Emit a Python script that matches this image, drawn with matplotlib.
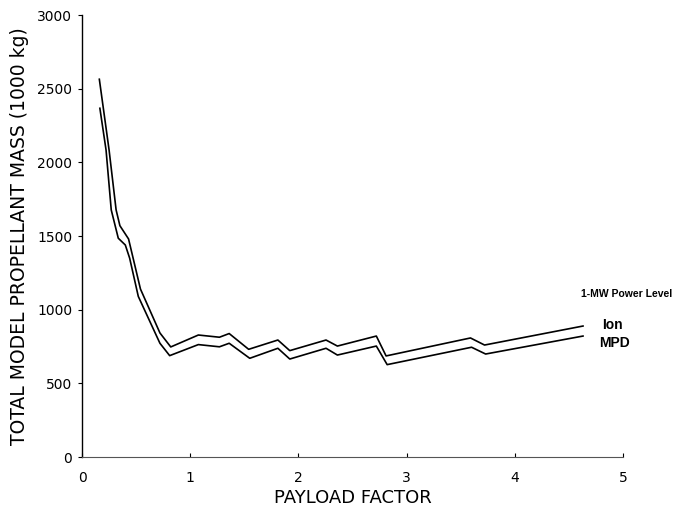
import matplotlib
matplotlib.use("Agg")
import matplotlib.pyplot as plt

# Data
ion_x = [0.16, 0.25, 0.315, 0.35, 0.43, 0.54, 0.72, 0.82, 1.075, 1.27, 1.36, 1.54, 1.81, 1.92, 2.255, 2.36, 2.72, 2.81, 3.59, 3.72, 4.63]
ion_y = [2564, 2084, 1677, 1570, 1480, 1140, 842, 747, 828, 813, 838, 731, 794, 722, 794, 753, 821, 686, 808, 760, 889]

mpd_x = [0.165, 0.222, 0.27, 0.335, 0.40, 0.44, 0.52, 0.72, 0.81, 1.075, 1.27, 1.36, 1.55, 1.81, 1.92, 2.255, 2.36, 2.72, 2.82, 3.6, 3.73, 4.63]
mpd_y = [2367, 2084, 1677, 1485, 1439, 1350, 1090, 772, 688, 763, 748, 772, 670, 738, 665, 738, 692, 753, 627, 745, 699, 821]

x_ticks = [0, 1, 2, 3, 4, 5]
y_ticks = [0, 500, 1000, 1500, 2000, 2500, 3000]

fig = plt.figure(figsize=(6.74, 5.12), dpi=100)
ax = fig.add_axes([0.1217, 0.1074, 0.8027, 0.8633])

ax.plot(ion_x, ion_y, color="black", lw=1.2)
ax.plot(mpd_x, mpd_y, color="black", lw=1.2)

ax.set_xlim(0, 5)
ax.set_ylim(0, 3000)
ax.set_xticks(x_ticks)
ax.set_yticks(y_ticks)
ax.set_xticklabels([str(v) for v in x_ticks])
ax.set_yticklabels([str(v) for v in y_ticks])

for s in ["top", "right"]:
    ax.spines[s].set_visible(False)
ax.spines["left"].set_linewidth(1.0)
ax.spines["bottom"].set_linewidth(0.8)
ax.spines["bottom"].set_color("#555555")

ax.tick_params(axis="y", direction="out", length=3, labelsize=10, pad=4)
ax.tick_params(axis="x", direction="in", length=3, labelsize=10, pad=10)

ax.set_xlabel("PAYLOAD FACTOR", fontsize=13, labelpad=3)
ax.set_ylabel("TOTAL MODEL PROPELLANT MASS (1000 kg)", fontsize=13.5, labelpad=6)

fig.text(0.997, 0.426, "1-MW Power Level", ha="right", va="center",
         fontsize=7.5, fontweight="bold", family="Liberation Sans")
fig.text(0.908, 0.365, "Ion", ha="center", va="center",
         fontsize=10, fontweight="bold", family="Liberation Sans")
fig.text(0.911, 0.330, "MPD", ha="center", va="center",
         fontsize=10, fontweight="bold", family="Liberation Sans")

fig.savefig("out.png", dpi=100)
